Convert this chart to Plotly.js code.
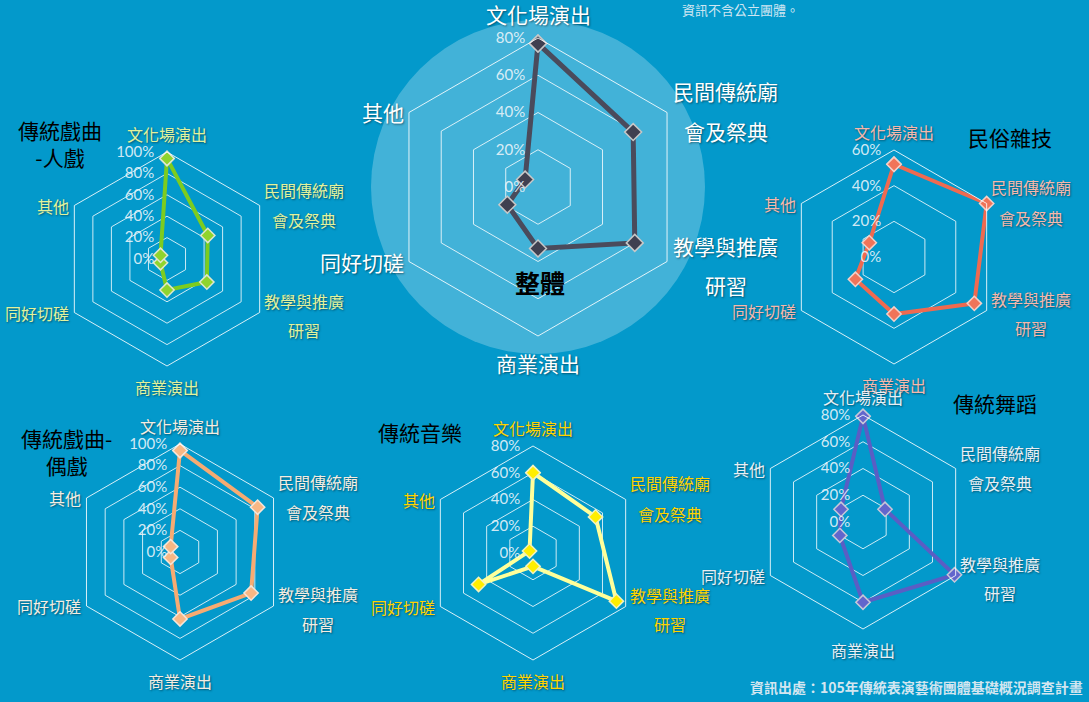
<!DOCTYPE html>
<html>
<head>
<meta charset="utf-8">
<script src="https://cdn.plot.ly/plotly-3.0.1.min.js"></script>
<style>
html, body { margin: 0; padding: 0; background: #0399cb; }
#chart { width: 1089px; height: 702px; }
</style>
</head>
<body>
<div id="chart"></div>
<script>
// axis categories, clockwise from the top
var categories = ['文化場演出', '民間傳統廟會及祭典', '教學與推廣研習', '商業演出', '同好切磋', '其他'];
// how the category names are wrapped around each chart
var labelLines = [['文化場演出'], ['民間傳統廟', '會及祭典'], ['教學與推廣', '研習'], ['商業演出'], ['同好切磋'], ['其他']];

// shares
var overall    = [0.77, 0.59, 0.60, 0.33, 0.19, 0.08];
var humanOpera = [0.94, 0.44, 0.43, 0.29, 0.07, 0.07];
var folkAcro   = [0.52, 0.60, 0.52, 0.32, 0.25, 0.16];
var puppet     = [0.94, 0.83, 0.76, 0.62, 0.10, 0.10];
var music      = [0.60, 0.54, 0.72, 0.10, 0.47, 0.03];
var dance      = [0.79, 0.19, 0.79, 0.60, 0.20, 0.19];

var W = 1089, H = 702;
var CJK = "'Noto Sans CJK TC', 'Noto Sans', sans-serif";
var shadow = '1px 1px 2px rgba(0,0,0,0.45)';

function closed(arr) { return arr.concat([arr[0]]); }

function radar(values, subplot, lineColor, markerColor, markerLine, width, size) {
    return {
        type: 'scatterpolar',
        r: closed(values),
        theta: closed(categories),
        subplot: subplot,
        mode: 'lines+markers',
        line: { color: lineColor, width: width },
        marker: { symbol: 'diamond', size: size, color: markerColor, line: { color: markerLine, width: 1.5 } },
        hoverinfo: 'r+theta',
        showlegend: false
    };
}

function polarAxis(cx, cy, r, maxR) {
    return {
        domain: { x: [(cx - r) / W, (cx + r) / W], y: [1 - (cy + r) / H, 1 - (cy - r) / H] },
        gridshape: 'linear',
        bgcolor: 'rgba(0,0,0,0)',
        radialaxis: {
            range: [0, maxR],
            dtick: 0.2,
            tickformat: '.0%',
            angle: 90,
            side: 'counterclockwise',
            tickangle: 90,
            showline: false,
            ticks: 'outside',
            ticklen: 7,
            tickcolor: 'rgba(0,0,0,0)',
            gridcolor: 'rgba(255,255,255,0.8)',
            gridwidth: 1,
            tickfont: { family: "Lato, 'Noto Sans', sans-serif", size: 15, color: 'rgba(235,245,250,0.9)' }
        },
        angularaxis: {
            rotation: 90,
            direction: 'clockwise',
            showgrid: false,
            showline: true,
            linecolor: 'rgba(255,255,255,0.85)',
            linewidth: 1,
            ticks: '',
            showticklabels: false
        }
    };
}

// category names placed around the hexagon of one chart
function axisLabels(cx, cy, r, fs, color) {
    var out = [];
    labelLines.forEach(function (lines, i) {
        var a = (90 - 60 * i) * Math.PI / 180;
        var vx = cx + r * Math.cos(a), vy = cy - r * Math.sin(a);
        var spots;
        if (i === 0) spots = [[vx, vy - 1.15 * fs, 'center']];
        else if (i === 3) spots = [[vx, vy + 1.3 * fs, 'center']];
        else if (i === 1) spots = [[vx + 2.8 * fs, vy - 1.0 * fs, 'center'], [vx + 2.8 * fs, vy + 0.9 * fs, 'center']];
        else if (i === 2) spots = [[vx + 2.8 * fs, vy - 0.75 * fs, 'center'], [vx + 2.8 * fs, vy + 1.1 * fs, 'center']];
        else spots = [[vx - 3, vy, 'right']];
        lines.forEach(function (line, k) {
            out.push({
                text: line, xref: 'paper', yref: 'paper',
                x: spots[k][0] / W, y: 1 - spots[k][1] / H,
                xanchor: spots[k][2], yanchor: 'middle', showarrow: false,
                font: { family: CJK, size: fs, color: color, shadow: shadow }
            });
        });
    });
    return out;
}

var data = [
    radar(overall, 'polar', '#4a4b5c', '#3f4050', '#c8c8c8', 5, 13),
    radar(humanOpera, 'polar2', '#7dcc1f', '#8fd42e', '#e0e8d0', 4, 11),
    radar(folkAcro, 'polar3', '#ef6a50', '#f07459', '#f5d0c8', 4, 11),
    radar(puppet, 'polar4', '#f6ab72', '#f8b784', '#f5e6da', 4, 11),
    radar(music, 'polar5', '#ffff9a', '#ffee00', '#f2f2c0', 4, 11),
    radar(dance, 'polar6', '#5a5ec4', '#6266cc', '#c8c8d8', 4, 11)
];

function title(text, x, y, size, bold) {
    return {
        text: bold ? '<b>' + text + '</b>' : text,
        xref: 'paper', yref: 'paper', x: x / W, y: 1 - y / H,
        xanchor: 'center', yanchor: 'middle', showarrow: false,
        font: { family: CJK, size: size, color: '#000000' }
    };
}

var annotations = [].concat(
    axisLabels(538, 187, 149, 21, '#ffffff'),
    axisLabels(167, 259, 107, 16, '#e2f29c'),
    axisLabels(894, 257, 107, 16, '#f6b8ac'),
    axisLabels(180, 552, 108, 16, '#f4ede2'),
    axisLabels(533, 553, 107, 16, '#ffd400'),
    axisLabels(863, 522, 107, 16, '#e8eff5'),
    [
        title('傳統戲曲<br>-人戲', 60, 144, 21, false),
        title('整體', 540, 282, 25, true),
        title('民俗雜技', 1010, 137, 21, false),
        title('傳統戲曲-<br>偶戲', 66, 451, 21, false),
        title('傳統音樂', 420, 432, 21, false),
        title('傳統舞蹈', 995, 403, 21, false),
        {
            text: '資訊不含公立團體。', xref: 'paper', yref: 'paper',
            x: 680 / W, y: 1 - 10 / H, xanchor: 'left', yanchor: 'middle', showarrow: false,
            font: { family: CJK, size: 13, color: '#cfe6f2' }
        },
        {
            text: '<b>資訊出處：105年傳統表演藝術團體基礎概況調查計畫</b>', xref: 'paper', yref: 'paper',
            x: 1085 / W, y: 1 - 687 / H, xanchor: 'right', yanchor: 'middle', showarrow: false,
            font: { family: CJK, size: 14, color: '#d3e6f0' }
        }
    ]
);

var layout = {
    width: W,
    height: H,
    margin: { l: 0, r: 0, t: 0, b: 0 },
    paper_bgcolor: '#0399cb',
    plot_bgcolor: '#0399cb',
    showlegend: false,
    polar:  polarAxis(538, 187, 149, 0.8),
    polar2: polarAxis(167, 259, 107, 1.0),
    polar3: polarAxis(894, 257, 107, 0.6),
    polar4: polarAxis(180, 552, 108, 1.0),
    polar5: polarAxis(533, 553, 107, 0.8),
    polar6: polarAxis(863, 522, 107, 0.8),
    shapes: [{
        type: 'circle', xref: 'paper', yref: 'paper', layer: 'below',
        x0: (538 - 167) / W, x1: (538 + 167) / W,
        y0: 1 - (187 + 167) / H, y1: 1 - (187 - 167) / H,
        fillcolor: 'rgba(255,255,255,0.25)', line: { width: 0 }
    }],
    annotations: annotations
};

Plotly.newPlot('chart', data, layout, { displayModeBar: false });
</script>
</body>
</html>
